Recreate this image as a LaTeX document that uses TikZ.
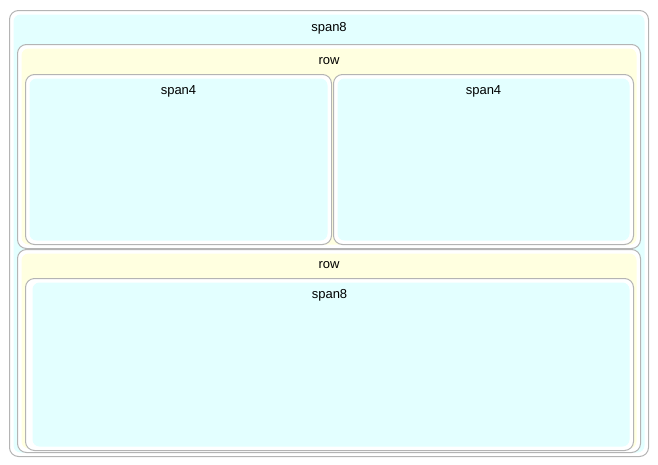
\documentclass[tikz,border=0pt]{standalone}
\usepackage{fontspec}
\setmainfont{Liberation Sans}
\definecolor{cy}{HTML}{E3FFFF}
\definecolor{yl}{HTML}{FFFFE0}
\definecolor{bd}{HTML}{B4B4B4}
\tikzset{
 frame/.style={draw=bd,line width=1pt,fill=white,rounded corners=9pt,inner sep=0pt},
 lbl/.style={font=\fontsize{13}{15}\selectfont,inner sep=0pt}
}
\newcommand\bx[7]{% name, x1,y1,x2,y2,color,inset
 \draw[frame] (#2pt,-#3pt) rectangle (#4pt,-#5pt);
 \fill[#6,rounded corners=7pt] ({#2pt+#7pt},{-#3pt-4pt}) rectangle ({#4pt-4pt},{-#5pt+4pt});
 \coordinate (#1) at ({(#2pt+#4pt)/2},-#3pt);
}
\begin{document}
\begin{tikzpicture}[x=1pt,y=1pt]
\useasboundingbox (0,0) rectangle (658,-464);
\bx{o}{9.5}{10.5}{648.5}{456.5}{cy}{4}
\bx{r1}{17.5}{44.5}{640.5}{248.5}{yl}{4}
\bx{a}{25.5}{74.5}{331.5}{244.5}{cy}{4}
\bx{b}{333.5}{74.5}{633.5}{244.5}{cy}{4}
\bx{r2}{17.5}{249.5}{640.5}{452.5}{yl}{4}
\bx{c}{25.5}{278.5}{633.5}{450.5}{cy}{7}
\node[lbl] (ol) at ([yshift=-17.5pt]o) {span8};
\node[lbl] (r1l) at ([yshift=-16.5pt]r1) {row};
\node[lbl] (al) at ([yshift=-16.5pt]a) {span4};
\node[lbl] (bl) at ([yshift=-16.5pt]b) {span4};
\node[lbl] (r2l) at ([yshift=-15.5pt]r2) {row};
\node[lbl] (cl) at ([yshift=-16.5pt]c) {span8};
\end{tikzpicture}
\end{document}
